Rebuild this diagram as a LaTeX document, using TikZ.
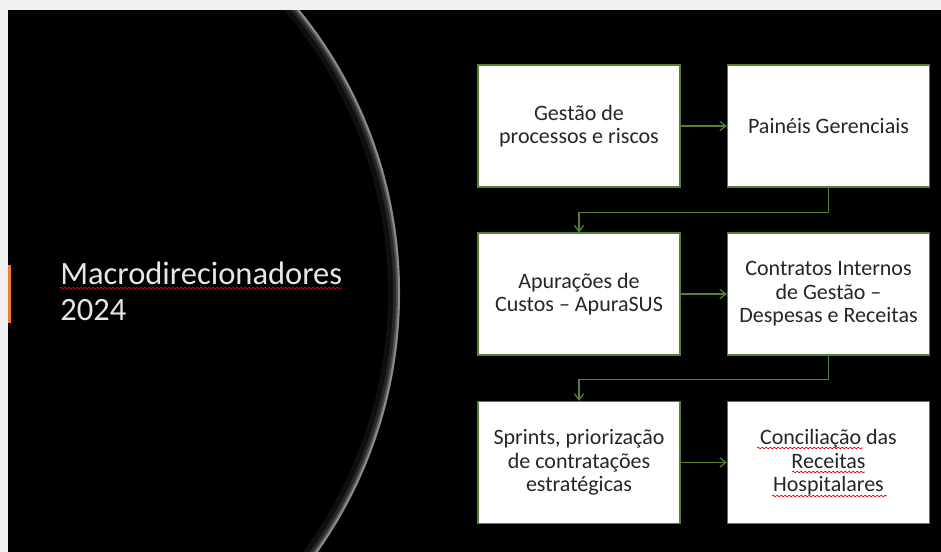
\documentclass[tikz,border=0pt]{standalone}
\usepackage{fontspec}
\setmainfont{Carlito}
\usetikzlibrary{arrows.meta,decorations.pathmorphing}
\definecolor{bggray}{HTML}{F0F0F0}
\definecolor{boxgreen}{HTML}{548235}
\definecolor{txt}{HTML}{262626}
\definecolor{titletxt}{HTML}{E6E6E6}
\definecolor{accent}{HTML}{ED7D31}
\definecolor{spell}{HTML}{E00000}
\begin{document}
\begin{tikzpicture}[x=0.75pt,y=-0.75pt,
  stepbox/.style={draw=boxgreen, line width=1.1pt, fill=white, minimum width=151.5pt, minimum height=91.5pt, inner sep=0pt, align=center, text=txt, font=\fontsize{16.5}{17.6}\selectfont},
  conn/.style={draw=boxgreen, line width=0.9pt, -{Straight Barb[length=4.5pt,width=7pt]}},
  squiggle/.style={draw=spell, line width=0.5pt, decorate, decoration={snake, amplitude=0.6pt, segment length=3pt}},
  titletext/.style={anchor=base west, text=titletxt, font=\fontsize{24.4}{27}\selectfont, inner sep=0pt}
]
\useasboundingbox (0,0) rectangle (941,552);
\fill[bggray] (0,0) rectangle (941,552);
\fill[black] (8,10) rectangle (941,552);
\begin{scope}
\clip (8,10) rectangle (941,552);
\draw[white, opacity=0.06, line width=9pt] (-49,293) circle[radius=443];
\draw[white, opacity=0.10, line width=5pt] (-49,293) circle[radius=445.5];
\draw[white, opacity=0.18, line width=3pt] (-49,293) circle[radius=447];
\draw[white, opacity=0.35, line width=1.6pt] (-49,293) circle[radius=448];
\end{scope}
\fill[accent] (8,265) rectangle (11,323);

\node[titletext] (t1) at (60,284) {Macrodirecionadores};
\node[titletext] (t2) at (60,320) {2024};
\draw[squiggle] ([yshift=-3pt]t1.base west) -- ([yshift=-3pt]t1.base east);

\node[stepbox] (b1) at (579,126) {Gestão de\\processos e riscos};
\node[stepbox] (b2) at (828.5,126) {Painéis Gerenciais};
\node[stepbox] (b3) at (579,294) {Apurações de\\Custos – ApuraSUS};
\node[stepbox] (b4) at (828.5,294) {Contratos Internos\\de Gestão –\\Despesas e Receitas};
\node[stepbox] (b5) at (579,462.5) {Sprints, priorização\\de contratações\\estratégicas};
\node[stepbox] (b6) at (828.5,462.5) {Conciliação das\\Receitas\\Hospitalares};

\draw[conn] (b1) -- (b2);
\draw[conn] (b2.south) -- ++(0,25) -| (b3.north);
\draw[conn] (b3) -- (b4);
\draw[conn] (b4.south) -- ++(0,24) -| (b5.north);
\draw[conn] (b5) -- (b6);

\draw[squiggle] (757,448) -- (863,448);
\draw[squiggle] (792,472) -- (865,472);
\draw[squiggle] (772,496) -- (887,496);
\end{tikzpicture}
\end{document}
